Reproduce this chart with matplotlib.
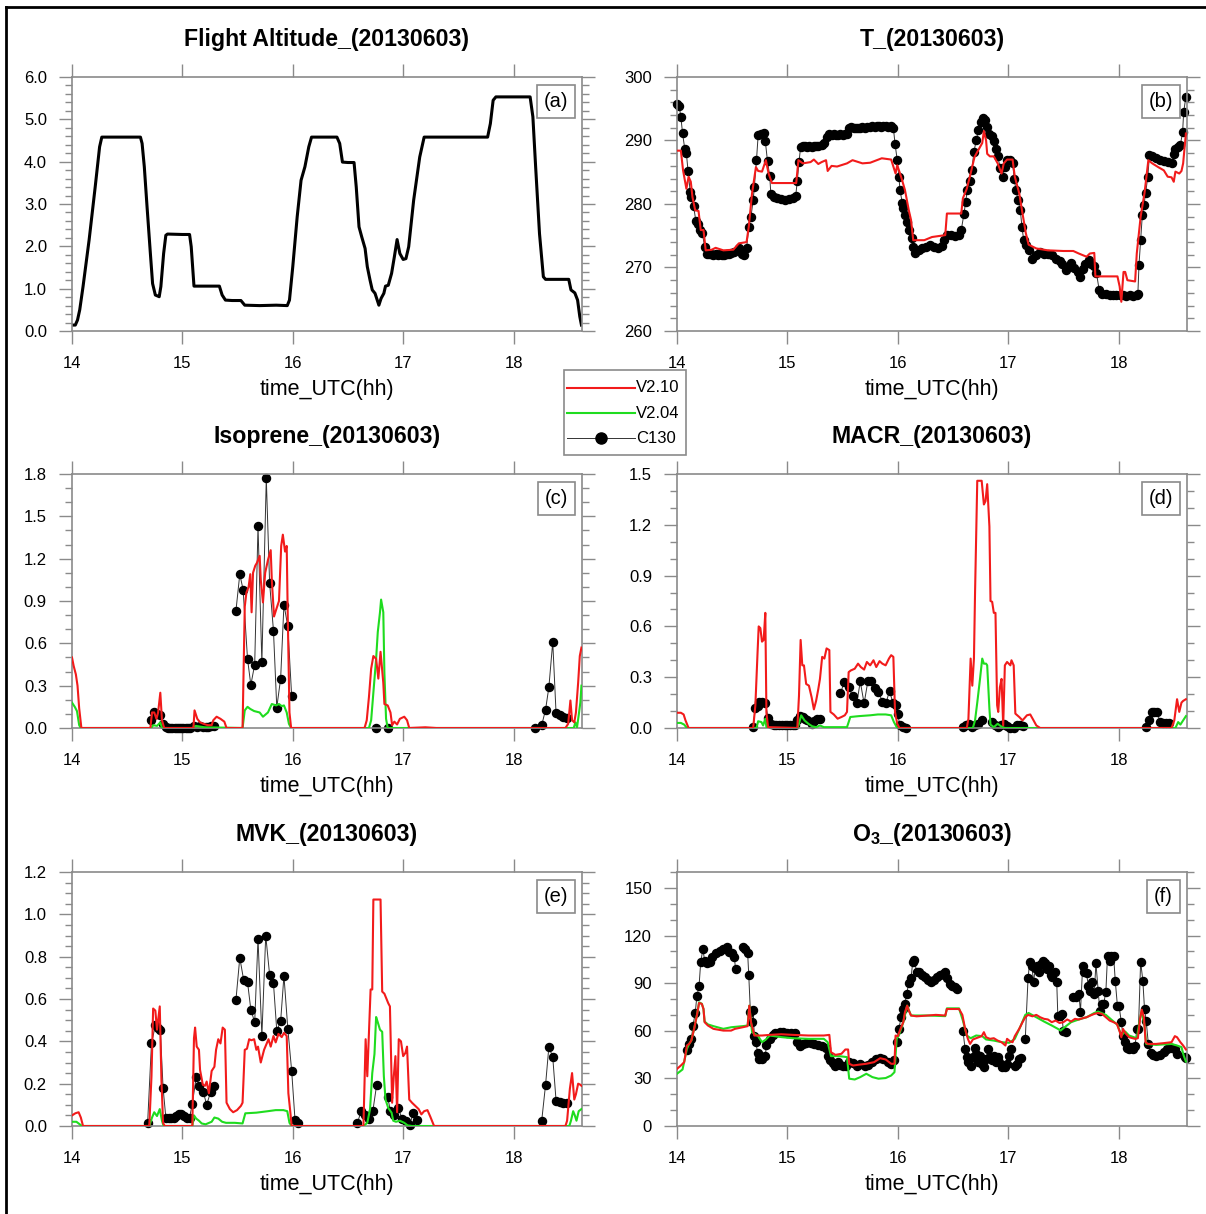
import numpy as np
import matplotlib
matplotlib.use("Agg")
import matplotlib.pyplot as plt
from matplotlib.ticker import MultipleLocator, FormatStrFormatter
from matplotlib.lines import Line2D
from matplotlib.patches import Rectangle

plt.rcParams['font.family'] = ['Liberation Sans', 'DejaVu Sans']
plt.rcParams['mathtext.fontset'] = 'custom'
plt.rcParams['mathtext.rm'] = 'Liberation Sans:bold'
plt.rcParams['mathtext.bf'] = 'Liberation Sans:bold'

DATE = "20130603"
SERIES_LABELS = ["V2.10", "V2.04", "C130"]
X_TICKS = [14, 15, 16, 17, 18]

# ---------------- (a) flight altitude (km) ----------------
ALTITUDE = [(14.00, 0.14), (14.03, 0.14), (14.05, 0.26), (14.07, 0.50), (14.10, 1.05),
            (14.155, 2.15), (14.21, 3.40), (14.25, 4.35), (14.27, 4.58), (14.45, 4.58),
            (14.62, 4.58), (14.635, 4.43), (14.655, 3.88), (14.68, 2.93), (14.71, 1.83),
            (14.73, 1.12), (14.755, 0.85), (14.79, 0.81), (14.805, 1.05), (14.83, 1.83),
            (14.85, 2.26), (14.865, 2.29), (15.00, 2.28), (15.065, 2.28), (15.08, 1.99),
            (15.105, 1.06), (15.20, 1.06), (15.335, 1.06), (15.36, 0.85), (15.39, 0.73),
            (15.45, 0.72), (15.53, 0.72), (15.565, 0.61), (15.70, 0.60), (15.85, 0.61),
            (15.95, 0.60), (15.97, 0.73), (16.00, 1.52), (16.04, 2.70), (16.075, 3.56),
            (16.11, 3.88), (16.145, 4.35), (16.17, 4.58), (16.30, 4.58), (16.40, 4.58),
            (16.425, 4.43), (16.45, 3.99), (16.50, 3.98), (16.555, 3.98), (16.575, 3.40),
            (16.60, 2.46), (16.625, 2.22), (16.655, 1.95), (16.675, 1.52), (16.70, 1.20),
            (16.72, 0.97), (16.745, 0.89), (16.78, 0.61), (16.80, 0.77), (16.825, 0.89),
            (16.84, 1.06), (16.865, 1.08), (16.895, 1.36), (16.92, 1.75), (16.945, 2.16),
            (16.97, 1.83), (17.00, 1.69), (17.025, 1.71), (17.05, 1.99), (17.095, 3.09),
            (17.15, 4.11), (17.19, 4.58), (17.50, 4.58), (17.765, 4.58), (17.79, 4.90),
            (17.815, 5.45), (17.84, 5.53), (18.00, 5.53), (18.15, 5.53), (18.175, 5.06),
            (18.20, 3.88), (18.235, 2.30), (18.27, 1.28), (18.29, 1.22), (18.40, 1.22),
            (18.50, 1.22), (18.52, 0.97), (18.555, 0.90), (18.58, 0.73), (18.60, 0.34),
            (18.615, 0.14)]

# ---------------- (b) temperature (K) ----------------
T_C130 = [(14.00, 295.7), (14.02, 295.4), (14.035, 293.7), (14.05, 291.2), (14.07, 288.7),
          (14.085, 288.0), (14.10, 285.2), (14.12, 281.9), (14.13, 281.1), (14.15, 279.7),
          (14.17, 277.4), (14.19, 276.8), (14.21, 275.9), (14.23, 275.4), (14.25, 273.3),
          (14.27, 272.2), (14.29, 272.1), (14.31, 272.2), (14.33, 272.0), (14.35, 272.1),
          (14.37, 272.0), (14.39, 272.1), (14.41, 272.0), (14.43, 272.0), (14.45, 272.1),
          (14.47, 272.2), (14.49, 272.3), (14.52, 272.5), (14.56, 273.0), (14.59, 272.1),
          (14.61, 272.0), (14.63, 273.0), (14.65, 276.3), (14.67, 278.0), (14.69, 280.6),
          (14.70, 282.6), (14.72, 286.9), (14.735, 290.8), (14.76, 291.1), (14.79, 291.2),
          (14.80, 289.9), (14.82, 286.7), (14.84, 284.4), (14.85, 281.6), (14.875, 281.1),
          (14.91, 281.0), (14.945, 280.8), (14.98, 280.6), (15.015, 280.8), (15.05, 281.0),
          (15.075, 281.2), (15.09, 283.7), (15.105, 286.6), (15.12, 289.0), (15.14, 289.1),
          (15.16, 289.1), (15.18, 289.0), (15.20, 289.1), (15.22, 289.0), (15.24, 289.1),
          (15.26, 289.1), (15.28, 289.2), (15.31, 289.3), (15.33, 289.6), (15.36, 290.6),
          (15.38, 291.0), (15.40, 290.9), (15.42, 291.0), (15.44, 290.9), (15.46, 290.9),
          (15.48, 291.0), (15.50, 290.9), (15.52, 291.0), (15.54, 291.1), (15.56, 291.9),
          (15.575, 292.1), (15.60, 292.0), (15.62, 291.9), (15.64, 292.0), (15.66, 292.0),
          (15.68, 292.1), (15.70, 292.0), (15.72, 292.1), (15.75, 292.1), (15.77, 292.3),
          (15.79, 292.2), (15.81, 292.3), (15.83, 292.3), (15.85, 292.2), (15.87, 292.3),
          (15.89, 292.3), (15.91, 292.2), (15.94, 292.3), (15.96, 292.0), (15.975, 289.5),
          (15.995, 286.9), (16.01, 284.3), (16.02, 282.2), (16.04, 280.2), (16.05, 279.3),
          (16.065, 278.2), (16.085, 277.2), (16.105, 275.9), (16.13, 274.7), (16.14, 273.3),
          (16.16, 272.3), (16.19, 272.7), (16.22, 273.0), (16.26, 273.3), (16.29, 273.5),
          (16.33, 273.3), (16.36, 273.0), (16.40, 273.4), (16.42, 274.3), (16.45, 275.1),
          (16.48, 275.1), (16.52, 275.0), (16.555, 275.1), (16.575, 275.9), (16.60, 278.5),
          (16.615, 280.3), (16.63, 282.2), (16.65, 283.7), (16.67, 285.3), (16.69, 288.2),
          (16.71, 290.0), (16.73, 291.6), (16.755, 292.9), (16.775, 293.6), (16.79, 293.2),
          (16.81, 292.1), (16.83, 291.1), (16.85, 290.7), (16.87, 289.9), (16.89, 288.7),
          (16.905, 287.5), (16.93, 285.6), (16.95, 284.2), (16.97, 285.8), (16.99, 286.9),
          (17.02, 287.0), (17.04, 286.4), (17.055, 284.0), (17.07, 282.2), (17.09, 280.6),
          (17.11, 279.0), (17.125, 276.4), (17.14, 274.4), (17.16, 273.5), (17.185, 272.7),
          (17.22, 271.4), (17.25, 272.0), (17.29, 272.5), (17.325, 272.2), (17.36, 272.1),
          (17.395, 272.0), (17.43, 271.4), (17.465, 271.1), (17.49, 270.5), (17.52, 269.6),
          (17.54, 270.1), (17.57, 270.7), (17.60, 269.9), (17.63, 269.3), (17.65, 268.5),
          (17.675, 269.7), (17.70, 270.6), (17.73, 271.2), (17.75, 270.6), (17.78, 270.2),
          (17.80, 269.1), (17.825, 266.4), (17.85, 265.8), (17.885, 265.8), (17.92, 265.7),
          (17.95, 265.7), (17.98, 265.6), (18.01, 265.7), (18.04, 265.6), (18.07, 265.5),
          (18.10, 265.6), (18.13, 265.5), (18.165, 265.7), (18.175, 265.9), (18.185, 270.4),
          (18.20, 274.3), (18.215, 278.2), (18.23, 279.8), (18.245, 281.7), (18.265, 284.3),
          (18.28, 287.7), (18.305, 287.5), (18.34, 287.3), (18.375, 287.0), (18.41, 286.8),
          (18.445, 286.6), (18.48, 286.4), (18.50, 287.8), (18.515, 288.7), (18.54, 289.0),
          (18.56, 289.3), (18.58, 291.3), (18.59, 294.5), (18.61, 296.9)]

T_V210 = [(14.00, 288.4), (14.035, 288.4), (14.055, 285.3), (14.085, 282.4), (14.105, 284.3),
          (14.125, 283.5), (14.14, 281.1), (14.165, 279.0), (14.195, 278.9), (14.215, 275.9),
          (14.24, 275.9), (14.26, 272.7), (14.315, 272.8), (14.35, 273.1), (14.42, 272.7),
          (14.51, 272.8), (14.56, 273.8), (14.63, 274.0), (14.65, 276.4), (14.68, 281.7),
          (14.715, 285.8), (14.735, 285.2), (14.77, 285.1), (14.805, 286.9), (14.83, 284.8),
          (14.86, 283.3), (14.945, 283.3), (15.08, 283.3), (15.10, 286.9), (15.14, 286.4),
          (15.21, 286.6), (15.24, 287.0), (15.28, 286.3), (15.31, 286.6), (15.35, 286.9),
          (15.365, 285.2), (15.40, 286.0), (15.45, 285.9), (15.54, 286.4), (15.59, 286.9),
          (15.68, 286.4), (15.75, 286.5), (15.855, 287.2), (15.94, 287.0), (15.98, 284.8),
          (15.995, 286.1), (16.03, 284.3), (16.065, 282.2), (16.10, 279.0), (16.12, 277.5),
          (16.14, 274.3), (16.24, 274.3), (16.31, 274.8), (16.43, 275.1), (16.445, 278.5),
          (16.575, 278.5), (16.59, 280.9), (16.625, 282.4), (16.66, 284.8), (16.695, 287.4),
          (16.73, 288.5), (16.765, 289.6), (16.78, 291.5), (16.80, 290.0), (16.81, 287.9),
          (16.835, 287.5), (16.87, 287.5), (16.905, 286.4), (16.94, 284.8), (16.96, 286.4),
          (16.99, 287.0), (17.04, 287.0), (17.06, 284.3), (17.10, 281.7), (17.13, 278.5),
          (17.16, 275.4), (17.185, 273.6), (17.255, 273.0), (17.36, 272.7), (17.50, 272.6),
          (17.59, 272.6), (17.64, 272.2), (17.71, 271.7), (17.74, 272.2), (17.78, 272.3),
          (17.79, 268.6), (17.885, 268.6), (17.99, 268.6), (18.01, 267.0), (18.025, 264.6),
          (18.045, 269.3), (18.06, 269.3), (18.08, 268.0), (18.15, 267.8), (18.165, 272.2),
          (18.20, 278.0), (18.235, 281.7), (18.27, 286.9), (18.305, 286.4), (18.36, 285.8),
          (18.41, 285.3), (18.445, 284.3), (18.48, 284.2), (18.50, 283.5), (18.515, 285.1),
          (18.55, 284.8), (18.57, 285.2), (18.585, 286.4), (18.61, 291.1)]

# ---------------- (c) isoprene (ppbv) ----------------
ISO_C130 = [(14.72, 0.06), (14.745, 0.11), (14.77, 0.10), (14.795, 0.09), (14.825, 0.03),
            (14.85, 0.01), (14.87, 0.0), (14.89, 0.0), (14.91, 0.0), (14.93, 0.0),
            (14.95, 0.0), (14.97, 0.0), (14.99, 0.0), (15.01, 0.0), (15.03, 0.0),
            (15.05, 0.0), (15.07, 0.0), (15.105, 0.015), (15.13, 0.01), (15.16, 0.015),
            (15.185, 0.01), (15.21, 0.005), (15.235, 0.01), (15.26, 0.015), (15.29, 0.015),
            (15.40, None),
            (15.485, 0.83), (15.52, 1.09), (15.55, 0.98), (15.59, 0.49), (15.62, 0.305),
            (15.655, 0.45), (15.685, 1.43), (15.72, 0.465), (15.76, 1.77), (15.79, 1.03),
            (15.825, 0.69), (15.855, 0.145), (15.89, 0.35), (15.92, 0.875), (15.955, 0.72),
            (15.99, 0.225), (16.30, None), (16.755, 0.0), (16.80, None), (16.86, 0.0),
            (17.50, None), (18.19, 0.0), (18.255, 0.02), (18.29, 0.13), (18.32, 0.29),
            (18.355, 0.61), (18.385, 0.105), (18.42, 0.095), (18.45, 0.08), (18.48, 0.07)]

ISO_V210 = [(14.00, 0.50), (14.015, 0.44), (14.035, 0.38), (14.05, 0.30), (14.065, 0.14),
            (14.085, 0.0), (14.71, 0.0), (14.725, 0.11), (14.745, 0.11), (14.765, 0.065),
            (14.78, 0.11), (14.80, 0.25), (14.815, 0.055), (14.835, 0.0), (15.10, 0.0),
            (15.11, 0.125), (15.135, 0.065), (15.16, 0.04), (15.19, 0.03), (15.23, 0.02),
            (15.265, 0.02), (15.28, 0.055), (15.31, 0.08), (15.345, 0.065), (15.38, 0.045),
            (15.40, 0.0), (15.545, 0.0), (15.565, 0.86), (15.58, 0.96), (15.60, 1.0),
            (15.615, 1.09), (15.627, 0.82), (15.64, 1.10), (15.66, 1.15), (15.675, 1.17),
            (15.70, 1.22), (15.71, 1.05), (15.73, 0.89), (15.75, 1.10), (15.775, 1.19),
            (15.80, 1.26), (15.81, 1.05), (15.83, 0.79), (15.85, 0.84), (15.875, 0.90),
            (15.895, 1.29), (15.91, 1.37), (15.93, 1.25), (15.945, 1.29), (15.955, 0.77),
            (15.97, 0.11), (15.985, 0.0), (16.65, 0.0), (16.67, 0.055), (16.69, 0.22),
            (16.71, 0.42), (16.73, 0.51), (16.755, 0.49), (16.775, 0.35), (16.795, 0.54),
            (16.82, 0.32), (16.83, 0.17), (16.86, 0.16), (16.885, 0.11), (16.90, 0.02),
            (16.92, 0.045), (16.945, 0.025), (16.97, 0.065), (17.01, 0.08), (17.035, 0.055),
            (17.055, 0.0), (17.20, 0.005), (17.30, 0.0), (18.47, 0.0), (18.495, 0.03),
            (18.515, 0.195), (18.53, 0.055), (18.55, 0.04), (18.565, 0.11), (18.585, 0.32),
            (18.60, 0.51), (18.615, 0.57)]

ISO_V204 = [(14.00, 0.18), (14.025, 0.15), (14.045, 0.12), (14.065, 0.02), (14.08, 0.0),
            (14.72, 0.0), (14.735, 0.02), (14.77, 0.015), (14.80, 0.04), (14.815, 0.0),
            (15.09, 0.0), (15.12, 0.015), (15.20, 0.005), (15.545, 0.0), (15.565, 0.125),
            (15.59, 0.15), (15.615, 0.135), (15.65, 0.12), (15.70, 0.11), (15.73, 0.08),
            (15.775, 0.11), (15.81, 0.17), (15.83, 0.165), (15.85, 0.16), (15.875, 0.17),
            (15.90, 0.155), (15.92, 0.16), (15.945, 0.11), (15.965, 0.03), (15.985, 0.0),
            (16.69, 0.0), (16.71, 0.055), (16.73, 0.25), (16.755, 0.49), (16.77, 0.68),
            (16.79, 0.82), (16.80, 0.91), (16.82, 0.82), (16.83, 0.39), (16.845, 0.065),
            (16.86, 0.0), (18.545, 0.0), (18.56, 0.04), (18.575, 0.005), (18.59, 0.09),
            (18.605, 0.18), (18.615, 0.30)]

# ---------------- (d) MACR (ppbv) ----------------
MACR_C130 = [(14.69, 0.005), (14.71, 0.12), (14.73, 0.13), (14.745, 0.155), (14.77, 0.155),
             (14.80, 0.15), (14.825, 0.06), (14.85, 0.025), (14.875, 0.02), (14.90, 0.02),
             (14.925, 0.02), (14.95, 0.02), (14.975, 0.02), (15.00, 0.02), (15.025, 0.02),
             (15.05, 0.02), (15.07, 0.02), (15.09, 0.045), (15.11, 0.07), (15.14, 0.065),
             (15.16, 0.055), (15.18, 0.045), (15.21, 0.035), (15.225, 0.025), (15.245, 0.04),
             (15.27, 0.055), (15.295, 0.055), (15.40, None),
             (15.48, 0.205), (15.515, 0.27), (15.555, 0.24), (15.59, 0.19), (15.63, 0.15),
             (15.66, 0.275), (15.695, 0.145), (15.73, 0.28), (15.76, 0.28), (15.79, 0.235),
             (15.825, 0.215), (15.86, 0.155), (15.895, 0.15), (15.925, 0.22), (15.955, 0.15),
             (15.98, 0.135), (16.00, 0.08), (16.02, 0.015), (16.05, 0.005), (16.07, 0.0),
             (16.30, None), (16.59, 0.005), (16.62, 0.02), (16.645, 0.025), (16.675, 0.005),
             (16.70, 0.02), (16.73, 0.025), (16.76, 0.045), (16.80, None), (16.85, 0.035),
             (16.88, 0.02), (16.91, 0.005), (16.935, 0.02), (16.965, 0.025), (16.99, 0.01),
             (17.02, 0.0), (17.05, 0.0), (17.08, 0.015), (17.11, 0.02), (17.135, 0.01),
             (17.50, None), (18.25, 0.005), (18.275, 0.045), (18.30, 0.095), (18.325, 0.095),
             (18.35, 0.095), (18.375, 0.035), (18.40, 0.03), (18.43, 0.03), (18.46, 0.03)]

MACR_V210 = [(14.00, 0.09), (14.035, 0.09), (14.06, 0.08), (14.077, 0.045), (14.105, 0.0),
             (14.69, 0.0), (14.71, 0.135), (14.73, 0.45), (14.74, 0.60), (14.755, 0.59),
             (14.77, 0.51), (14.785, 0.52), (14.80, 0.68), (14.81, 0.09), (14.825, 0.005),
             (15.09, 0.0), (15.105, 0.19), (15.12, 0.52), (15.135, 0.37), (15.15, 0.37),
             (15.17, 0.26), (15.195, 0.25), (15.22, 0.18), (15.24, 0.11), (15.26, 0.16),
             (15.28, 0.23), (15.295, 0.29), (15.315, 0.42), (15.335, 0.41), (15.355, 0.47),
             (15.38, 0.46), (15.39, 0.095), (15.42, 0.08), (15.455, 0.055), (15.49, 0.065),
             (15.52, 0.075), (15.54, 0.095), (15.555, 0.33), (15.575, 0.34), (15.61, 0.35),
             (15.64, 0.38), (15.665, 0.36), (15.695, 0.345), (15.72, 0.39), (15.75, 0.37),
             (15.78, 0.40), (15.805, 0.36), (15.835, 0.395), (15.86, 0.38), (15.89, 0.37),
             (15.92, 0.41), (15.94, 0.43), (15.96, 0.42), (15.975, 0.095), (15.995, 0.025),
             (16.015, 0.0), (16.625, 0.0), (16.64, 0.055), (16.66, 0.41), (16.675, 0.25),
             (16.69, 0.41), (16.70, 0.80), (16.72, 1.46), (16.76, 1.46), (16.78, 1.32),
             (16.795, 1.34), (16.81, 1.44), (16.83, 1.19), (16.84, 0.75), (16.855, 0.745),
             (16.87, 0.68), (16.885, 0.68), (16.90, 0.135), (16.91, 0.095), (16.925, 0.24),
             (16.94, 0.29), (16.955, 0.015), (16.97, 0.37), (16.99, 0.39), (17.02, 0.37),
             (17.03, 0.40), (17.05, 0.37), (17.065, 0.085), (17.10, 0.065), (17.13, 0.045),
             (17.17, 0.075), (17.20, 0.08), (17.23, 0.045), (17.255, 0.015), (17.29, 0.0),
             (18.48, 0.0), (18.505, 0.045), (18.53, 0.17), (18.55, 0.095), (18.57, 0.15),
             (18.585, 0.16), (18.61, 0.17)]

MACR_V204 = [(14.00, 0.03), (14.035, 0.03), (14.065, 0.02), (14.09, 0.0), (14.72, 0.0),
             (14.735, 0.04), (14.765, 0.035), (14.78, 0.015), (14.80, 0.055), (14.81, 0.005),
             (14.83, 0.0), (15.09, 0.0), (15.105, 0.025), (15.125, 0.075), (15.155, 0.045),
             (15.19, 0.025), (15.225, 0.01), (15.26, 0.005), (15.295, 0.015), (15.33, 0.005),
             (15.54, 0.005), (15.57, 0.065), (15.645, 0.07), (15.75, 0.075), (15.82, 0.08),
             (15.89, 0.08), (15.94, 0.075), (15.965, 0.035), (15.995, 0.0), (16.68, 0.0),
             (16.70, 0.045), (16.72, 0.15), (16.745, 0.29), (16.765, 0.41), (16.78, 0.38),
             (16.80, 0.38), (16.81, 0.37), (16.83, 0.115), (16.84, 0.02), (16.87, 0.005),
             (16.905, 0.025), (16.935, 0.01), (16.97, 0.0), (18.515, 0.0), (18.54, 0.035),
             (18.56, 0.02), (18.585, 0.045), (18.61, 0.07)]

# ---------------- (e) MVK (ppbv) ----------------
MVK_C130 = [(14.685, 0.015), (14.72, 0.39), (14.755, 0.475), (14.78, 0.465), (14.80, 0.455),
            (14.825, 0.18), (14.85, 0.04), (14.875, 0.04), (14.90, 0.04), (14.92, 0.04),
            (14.945, 0.047), (14.965, 0.055), (14.99, 0.055), (15.015, 0.045), (15.04, 0.04),
            (15.065, 0.04), (15.09, 0.105), (15.125, 0.23), (15.155, 0.19), (15.19, 0.16),
            (15.22, 0.10), (15.255, 0.16), (15.29, 0.19), (15.40, None),
            (15.485, 0.595), (15.52, 0.795), (15.555, 0.69), (15.59, 0.68), (15.62, 0.55),
            (15.655, 0.49), (15.685, 0.885), (15.72, 0.425), (15.755, 0.90), (15.79, 0.715),
            (15.825, 0.675), (15.855, 0.45), (15.89, 0.495), (15.92, 0.71), (15.955, 0.46),
            (15.99, 0.26), (16.02, 0.03), (16.05, 0.015), (16.30, None), (16.585, 0.015),
            (16.62, 0.07), (16.655, 0.05), (16.69, 0.035), (16.725, 0.07), (16.76, 0.195),
            (16.81, None), (16.86, 0.135), (16.885, 0.07), (16.92, 0.05), (16.955, 0.085),
            (16.99, 0.035), (17.025, 0.025), (17.06, 0.005), (17.09, 0.06), (17.125, 0.03),
            (17.50, None), (18.255, 0.025), (18.29, 0.195), (18.32, 0.375), (18.355, 0.325),
            (18.385, 0.12), (18.42, 0.115), (18.45, 0.11), (18.48, 0.11)]

MVK_V210 = [(14.00, 0.05), (14.03, 0.06), (14.06, 0.065), (14.08, 0.04), (14.10, 0.0),
            (14.70, 0.0), (14.72, 0.235), (14.735, 0.555), (14.755, 0.545), (14.77, 0.455),
            (14.795, 0.565), (14.81, 0.22), (14.825, 0.015), (14.84, 0.0), (15.09, 0.0),
            (15.105, 0.415), (15.115, 0.465), (15.13, 0.375), (15.15, 0.36), (15.16, 0.265),
            (15.185, 0.195), (15.205, 0.19), (15.22, 0.21), (15.24, 0.155), (15.265, 0.26),
            (15.29, 0.28), (15.305, 0.36), (15.325, 0.41), (15.345, 0.39), (15.365, 0.465),
            (15.385, 0.455), (15.40, 0.11), (15.43, 0.08), (15.46, 0.065), (15.495, 0.075),
            (15.53, 0.095), (15.545, 0.11), (15.565, 0.36), (15.585, 0.365), (15.605, 0.41),
            (15.625, 0.405), (15.65, 0.41), (15.67, 0.36), (15.685, 0.375), (15.71, 0.30),
            (15.74, 0.36), (15.76, 0.385), (15.78, 0.41), (15.80, 0.375), (15.825, 0.425),
            (15.845, 0.395), (15.87, 0.435), (15.90, 0.42), (15.92, 0.44), (15.945, 0.425),
            (15.96, 0.155), (15.975, 0.08), (15.99, 0.0), (16.64, 0.0), (16.66, 0.41),
            (16.675, 0.235), (16.69, 0.44), (16.705, 0.645), (16.72, 0.645), (16.73, 1.07),
            (16.795, 1.07), (16.81, 0.635), (16.83, 0.625), (16.865, 0.58), (16.88, 0.565),
            (16.90, 0.11), (16.915, 0.235), (16.93, 0.33), (16.945, 0.065), (16.96, 0.41),
            (16.98, 0.40), (17.00, 0.33), (17.02, 0.345), (17.035, 0.375), (17.055, 0.125),
            (17.08, 0.11), (17.11, 0.095), (17.14, 0.08), (17.165, 0.055), (17.19, 0.07),
            (17.22, 0.075), (17.245, 0.045), (17.28, 0.0), (18.47, 0.0), (18.485, 0.025),
            (18.51, 0.175), (18.53, 0.25), (18.55, 0.125), (18.565, 0.15), (18.585, 0.20),
            (18.605, 0.195), (18.615, 0.19)]

MVK_V204 = [(14.00, 0.02), (14.04, 0.02), (14.065, 0.01), (14.09, 0.0), (14.70, 0.0),
            (14.725, 0.04), (14.745, 0.065), (14.77, 0.047), (14.795, 0.08), (14.815, 0.025),
            (14.83, 0.0), (15.09, 0.0), (15.105, 0.05), (15.125, 0.035), (15.15, 0.025),
            (15.175, 0.012), (15.21, 0.008), (15.265, 0.02), (15.29, 0.04), (15.325, 0.035),
            (15.36, 0.02), (15.395, 0.015), (15.475, 0.015), (15.545, 0.012), (15.57, 0.06),
            (15.67, 0.063), (15.775, 0.07), (15.845, 0.075), (15.915, 0.075), (15.95, 0.07),
            (15.97, 0.015), (15.99, 0.0), (16.64, 0.0), (16.675, 0.015), (16.70, 0.08),
            (16.72, 0.25), (16.74, 0.34), (16.755, 0.515), (16.77, 0.49), (16.79, 0.455),
            (16.81, 0.445), (16.825, 0.235), (16.84, 0.125), (16.865, 0.085), (16.895, 0.063),
            (16.91, 0.025), (16.935, 0.02), (16.97, 0.025), (17.01, 0.015), (17.04, 0.003),
            (17.08, 0.0), (18.505, 0.0), (18.52, 0.025), (18.54, 0.07), (18.555, 0.05),
            (18.57, 0.025), (18.59, 0.07), (18.615, 0.08)]

# ---------------- (f) ozone (ppbv) ----------------
O3_C130 = [(14.09, 47.6), (14.11, 51.7), (14.13, 54.5), (14.145, 63.3), (14.165, 71.2),
           (14.18, 81.7), (14.20, 88.4), (14.215, 103.5), (14.235, 111.5), (14.25, 104.1),
           (14.27, 102.7), (14.30, 103.1), (14.32, 106.2), (14.35, 108.9), (14.385, 110.4),
           (14.42, 111.5), (14.45, 112.5), (14.47, 109.8), (14.50, 108.9), (14.52, 106.2),
           (14.53, 98.9), (14.57, None), (14.60, 112.5), (14.62, 111.5), (14.64, 108.9),
           (14.65, 95.1), (14.665, 71.7), (14.675, 65.4), (14.69, 73.3), (14.70, 56.4),
           (14.715, 52.8), (14.73, 46.1), (14.745, 42.3), (14.77, 41.9), (14.80, 44.0),
           (14.81, 51.1), (14.84, 54.9), (14.87, 57.4), (14.89, 58.7), (14.93, 59.1),
           (14.96, 59.1), (15.00, 58.7), (15.03, 58.7), (15.07, 58.7), (15.09, 52.8),
           (15.11, 50.3), (15.14, 51.7), (15.17, 52.4), (15.21, 52.4), (15.24, 51.7),
           (15.28, 51.1), (15.31, 50.3), (15.35, 49.0), (15.365, 44.4), (15.385, 41.3),
           (15.41, 39.8), (15.435, 38.1), (15.46, 40.2), (15.48, 38.6), (15.505, 37.7),
           (15.53, 37.5), (15.555, 40.2), (15.59, 39.6), (15.63, 38.1), (15.66, 39.2),
           (15.70, 38.1), (15.73, 38.6), (15.77, 40.2), (15.80, 41.9), (15.84, 42.7),
           (15.87, 41.9), (15.91, 40.2), (15.94, 39.2), (15.97, 41.3), (15.99, 52.8),
           (16.01, 61.2), (16.03, 68.5), (16.05, 73.7), (16.065, 76.9), (16.08, 83.2),
           (16.10, 90.1), (16.12, 93.0), (16.135, 103.1), (16.15, 104.8), (16.17, 97.2),
           (16.195, 97.2), (16.22, 95.1), (16.25, 93.7), (16.275, 92.2), (16.30, 90.5),
           (16.33, 92.2), (16.355, 93.7), (16.385, 95.1), (16.41, 95.7), (16.43, 97.2),
           (16.45, 93.0), (16.47, 89.5), (16.495, 88.4), (16.52, 87.4), (16.54, 86.3),
           (16.56, None), (16.59, 60.1), (16.61, 48.6), (16.625, 43.4), (16.64, 40.2),
           (16.66, 38.1), (16.68, 43.4), (16.695, 49.0), (16.71, 45.5), (16.73, 40.2),
           (16.745, 44.4), (16.765, 39.2), (16.78, 37.1), (16.80, 42.3), (16.815, 48.6),
           (16.835, 43.4), (16.85, 41.3), (16.87, 44.4), (16.89, 40.2), (16.905, 43.4),
           (16.92, 40.2), (16.94, 37.1), (16.96, 38.1), (16.975, 37.1), (16.99, 39.2),
           (17.01, 44.4), (17.025, 48.6), (17.04, None), (17.06, 37.7), (17.08, 39.2),
           (17.10, 41.9), (17.12, 42.7), (17.14, None), (17.155, 54.9), (17.18, 93.0),
           (17.195, 103.5), (17.215, 101.0), (17.23, 90.5), (17.245, 99.4), (17.26, 100.6),
           (17.28, 96.8), (17.30, 102.0), (17.315, 104.1), (17.33, 102.7), (17.35, 98.9),
           (17.37, 101.0), (17.385, 95.1), (17.40, 93.7), (17.42, 97.2), (17.44, 90.5),
           (17.45, 69.1), (17.465, 69.6), (17.485, 70.6), (17.50, 60.1), (17.52, 59.5),
           (17.555, None), (17.59, 81.1), (17.61, 81.5), (17.64, 83.2), (17.655, 72.1),
           (17.675, 101.0), (17.69, 96.8), (17.71, 96.4), (17.725, 88.4), (17.745, 85.3),
           (17.76, 90.5), (17.78, 83.2), (17.795, 102.7), (17.815, 85.3), (17.83, 72.7),
           (17.85, 76.9), (17.865, 76.9), (17.885, 84.6), (17.90, 107.3), (17.92, 104.1),
           (17.935, 107.3), (17.955, 107.3), (17.97, 91.6), (17.99, 75.4), (18.005, 75.4),
           (18.025, 65.4), (18.04, 57.0), (18.06, 52.8), (18.075, 49.0), (18.095, 48.6),
           (18.11, 49.7), (18.13, 48.6), (18.15, 50.3), (18.165, 61.2), (18.18, 61.2),
           (18.20, 103.5), (18.22, 91.6), (18.235, 73.7), (18.25, 66.4), (18.27, 51.7),
           (18.29, 46.1), (18.31, 44.8), (18.34, 44.4), (18.375, 44.8), (18.41, 46.5),
           (18.44, 48.2), (18.48, 49.0), (18.51, 48.2), (18.53, 45.5), (18.565, None),
           (18.60, 43.4), (18.615, 42.7)]

O3_V210 = [(14.00, 36.0), (14.035, 38.1), (14.065, 40.2), (14.09, 50.7), (14.11, 51.7),
           (14.13, 53.8), (14.155, 61.2), (14.18, 69.6), (14.20, 77.5), (14.225, 76.9),
           (14.24, 73.7), (14.25, 65.4), (14.28, 63.3), (14.33, 61.2), (14.42, 60.1),
           (14.49, 60.1), (14.525, 61.2), (14.595, 62.2), (14.64, 62.9), (14.655, 75.8),
           (14.67, 65.4), (14.69, 60.1), (14.70, 57.0), (14.77, 57.0), (14.84, 57.4),
           (14.945, 57.8), (15.05, 57.4), (15.19, 57.0), (15.33, 57.0), (15.38, 57.4),
           (15.395, 46.5), (15.435, 44.8), (15.49, 45.5), (15.525, 48.2), (15.55, 48.2),
           (15.56, 39.2), (15.595, 38.1), (15.645, 38.6), (15.715, 39.2), (15.785, 40.2),
           (15.84, 42.7), (15.89, 41.9), (15.94, 39.2), (15.97, 39.2), (15.98, 57.0),
           (16.00, 56.6), (16.025, 61.2), (16.05, 65.4), (16.065, 71.7), (16.085, 75.8),
           (16.10, 72.7), (16.12, 69.6), (16.17, 69.1), (16.275, 69.6), (16.345, 70.0),
           (16.43, 69.6), (16.445, 73.7), (16.555, 73.7), (16.585, 70.0), (16.61, 61.2),
           (16.635, 54.9), (16.655, 51.7), (16.68, 54.5), (16.71, 55.3), (16.76, 56.6),
           (16.78, 59.1), (16.80, 55.9), (16.835, 54.9), (16.87, 55.3), (16.905, 53.8),
           (16.94, 52.8), (16.975, 50.7), (16.99, 54.9), (17.02, 53.2), (17.04, 52.8),
           (17.06, 56.6), (17.10, 61.2), (17.13, 65.4), (17.155, 68.5), (17.18, 70.0),
           (17.22, 69.1), (17.255, 70.0), (17.29, 68.5), (17.325, 67.5), (17.36, 67.1),
           (17.395, 65.4), (17.43, 66.4), (17.465, 64.9), (17.50, 65.4), (17.535, 67.1),
           (17.57, 65.8), (17.605, 67.5), (17.64, 67.1), (17.675, 67.9), (17.71, 68.5),
           (17.745, 69.6), (17.78, 70.6), (17.815, 71.2), (17.85, 70.6), (17.885, 68.5),
           (17.92, 66.4), (17.955, 65.4), (17.985, 64.3), (18.01, 59.5), (18.025, 55.9),
           (18.04, 61.2), (18.06, 58.7), (18.095, 55.9), (18.15, 54.9), (18.175, 55.3),
           (18.195, 67.5), (18.21, 73.3), (18.23, 68.5), (18.245, 52.8), (18.265, 51.7),
           (18.34, 51.7), (18.41, 52.2), (18.48, 52.8), (18.51, 56.6), (18.53, 55.9),
           (18.56, 52.8), (18.585, 50.7), (18.61, 48.2)]

O3_V204 = [(14.00, 32.9), (14.05, 35.6), (14.09, 48.6), (14.11, 51.7), (14.13, 53.8),
           (14.155, 61.2), (14.18, 69.6), (14.20, 77.9), (14.225, 77.0), (14.24, 73.7),
           (14.25, 65.8), (14.28, 64.0), (14.33, 62.9), (14.42, 61.2), (14.49, 62.2),
           (14.595, 62.9), (14.64, 63.3), (14.655, 75.8), (14.68, 59.1), (14.735, 56.6),
           (14.77, 52.8), (14.805, 54.5), (14.84, 57.0), (14.945, 56.0), (15.05, 55.3),
           (15.19, 54.9), (15.33, 54.9), (15.365, 52.8), (15.395, 44.0), (15.47, 44.0),
           (15.54, 43.4), (15.56, 29.8), (15.61, 29.3), (15.66, 30.8), (15.715, 32.9),
           (15.77, 30.8), (15.825, 29.8), (15.89, 30.2), (15.94, 31.8), (15.97, 33.9),
           (15.99, 54.9), (16.01, 57.0), (16.05, 65.4), (16.085, 75.8), (16.12, 69.6),
           (16.275, 69.6), (16.43, 69.2), (16.445, 74.1), (16.555, 74.1), (16.59, 66.4),
           (16.625, 57.0), (16.66, 55.3), (16.71, 57.0), (16.765, 56.6), (16.80, 54.5),
           (16.87, 53.8), (16.94, 52.8), (17.01, 52.4), (17.06, 54.9), (17.115, 63.3),
           (17.155, 70.0), (17.185, 71.2), (17.255, 68.5), (17.325, 65.8), (17.395, 63.3),
           (17.45, 61.2), (17.475, 60.1), (17.50, 61.6), (17.57, 65.4), (17.64, 67.1),
           (17.71, 68.5), (17.78, 71.2), (17.815, 72.1), (17.885, 70.0), (17.955, 65.8),
           (17.99, 63.7), (18.025, 57.0), (18.06, 59.5), (18.095, 57.0), (18.165, 55.3),
           (18.195, 67.9), (18.21, 72.7), (18.235, 63.3), (18.25, 51.7), (18.34, 51.1),
           (18.48, 51.7), (18.53, 50.7), (18.57, 49.7), (18.59, 44.4), (18.61, 40.6)]

# ---------------- drawing ----------------
W, H = 1206, 1214
RED = '#f21b1b'
GREEN = '#1fdc1f'
GRAY = '#8a8a8a'


def unzip(pairs):
    t = np.array([p[0] for p in pairs], dtype=float)
    v = np.array([np.nan if p[1] is None else p[1] for p in pairs], dtype=float)
    return t, v


def fx(x):
    return x / W


def fy(y):
    return 1 - y / H


fig = plt.figure(figsize=(W / 100, H / 100), dpi=100)

col_left = [72, 677]
row_top = [77, 474, 872]
ax_w, ax_h = 510, 254


def make_axes(col, row):
    x0 = col_left[col]
    y0 = row_top[row]
    return fig.add_axes([fx(x0), fy(y0 + ax_h), ax_w / W, ax_h / H])


def style(ax, title, tag, ylim, major, minor, fmt):
    ax.set_xlim(14, 18.62)
    ax.set_ylim(*ylim)
    ax.set_xticks(X_TICKS)
    ax.yaxis.set_major_locator(MultipleLocator(major))
    ax.yaxis.set_minor_locator(MultipleLocator(minor))
    ax.yaxis.set_major_formatter(FormatStrFormatter(fmt))
    ax.tick_params(axis='x', which='major', direction='out', top=True, bottom=True,
                   length=9.5, width=1.0, color=GRAY, labelsize=12, pad=8.5)
    ax.tick_params(axis='y', which='major', direction='out', left=True, right=True,
                   length=9.5, width=1.0, color=GRAY, labelsize=12, pad=8.5)
    ax.tick_params(axis='y', which='minor', direction='out', left=True, right=True,
                   length=5, width=1.0, color=GRAY)
    for s in ax.spines.values():
        s.set_color(GRAY)
        s.set_linewidth(1.2)
    ax.set_xlabel('time_UTC(hh)', fontsize=15.5, labelpad=6)
    ax.annotate(title, xy=(0.5, 1.0), xycoords='axes fraction', xytext=(0, 22),
                textcoords='offset points', ha='center', va='baseline',
                fontsize=16.7, fontweight='bold')
    ax.annotate(tag, xy=(1.0, 1.0), xycoords='axes fraction', xytext=(-10, -11),
                textcoords='offset points', ha='right', va='top', fontsize=14.5,
                bbox=dict(boxstyle='square,pad=0.35', fc='white', ec=GRAY, lw=1.2),
                zorder=10)


def obs(ax, pairs):
    t, v = unzip(pairs)
    ax.plot(t, v, color='#333333', lw=0.7, marker='o', ms=5.8, mfc='black',
            mec='black', zorder=2, clip_on=False)


def model(ax, pairs, color, z):
    t, v = unzip(pairs)
    ax.plot(t, v, color=color, lw=1.5, zorder=z)


# (a)
ax = make_axes(0, 0)
t, v = unzip(ALTITUDE)
ax.plot(t, v, color='black', lw=2.2)
style(ax, 'Flight Altitude_(' + DATE + ')', '(a)', (0, 6), 1.0, 0.2, '%.1f')

# (b)
ax = make_axes(1, 0)
obs(ax, T_C130)
model(ax, T_V210, RED, 4)
style(ax, 'T_(' + DATE + ')', '(b)', (260, 300), 10, 2, '%d')

# (c)
ax = make_axes(0, 1)
obs(ax, ISO_C130)
model(ax, ISO_V204, GREEN, 3)
model(ax, ISO_V210, RED, 4)
style(ax, 'Isoprene_(' + DATE + ')', '(c)', (0, 1.8), 0.3, 0.1, '%.1f')

# (d)
ax = make_axes(1, 1)
obs(ax, MACR_C130)
model(ax, MACR_V204, GREEN, 3)
model(ax, MACR_V210, RED, 4)
style(ax, 'MACR_(' + DATE + ')', '(d)', (0, 1.5), 0.3, 0.1, '%.1f')

# (e)
ax = make_axes(0, 2)
obs(ax, MVK_C130)
model(ax, MVK_V204, GREEN, 3)
model(ax, MVK_V210, RED, 4)
style(ax, 'MVK_(' + DATE + ')', '(e)', (0, 1.2), 0.2, 0.05, '%.1f')

# (f)
ax = make_axes(1, 2)
obs(ax, O3_C130)
model(ax, O3_V204, GREEN, 3)
model(ax, O3_V210, RED, 4)
style(ax, r'O$_3$_(' + DATE + ')', '(f)', (0, 160), 30, 10, '%d')

# shared legend box between the top and middle rows
fig.add_artist(Rectangle((fx(564), fy(455)), 122 / W, 85 / H, transform=fig.transFigure,
                         facecolor='white', edgecolor=GRAY, lw=1.2, zorder=20))
legend_styles = [dict(color=RED, lw=1.5),
                 dict(color=GREEN, lw=1.5),
                 dict(color='#333333', lw=0.7)]
for i, (label, st) in enumerate(zip(SERIES_LABELS, legend_styles)):
    yc = fy(388 + 25 * i)
    fig.add_artist(Line2D([fx(567), fx(635)], [yc, yc], transform=fig.transFigure,
                          zorder=21, **st))
    if label == "C130":
        fig.add_artist(Line2D([fx(601)], [yc], transform=fig.transFigure, marker='o',
                              ms=8, mfc='black', mec='black', lw=0, zorder=22))
    fig.text(fx(636), yc, label, fontsize=12, ha='left', va='center', zorder=22)

# page frame on the left and top edges
fig.add_artist(Line2D([fx(6), fx(6)], [0, fy(7)], transform=fig.transFigure,
                      color='black', lw=2))
fig.add_artist(Line2D([fx(6), 1], [fy(7), fy(7)], transform=fig.transFigure,
                      color='black', lw=2))

fig.savefig('out.png', dpi=100)
